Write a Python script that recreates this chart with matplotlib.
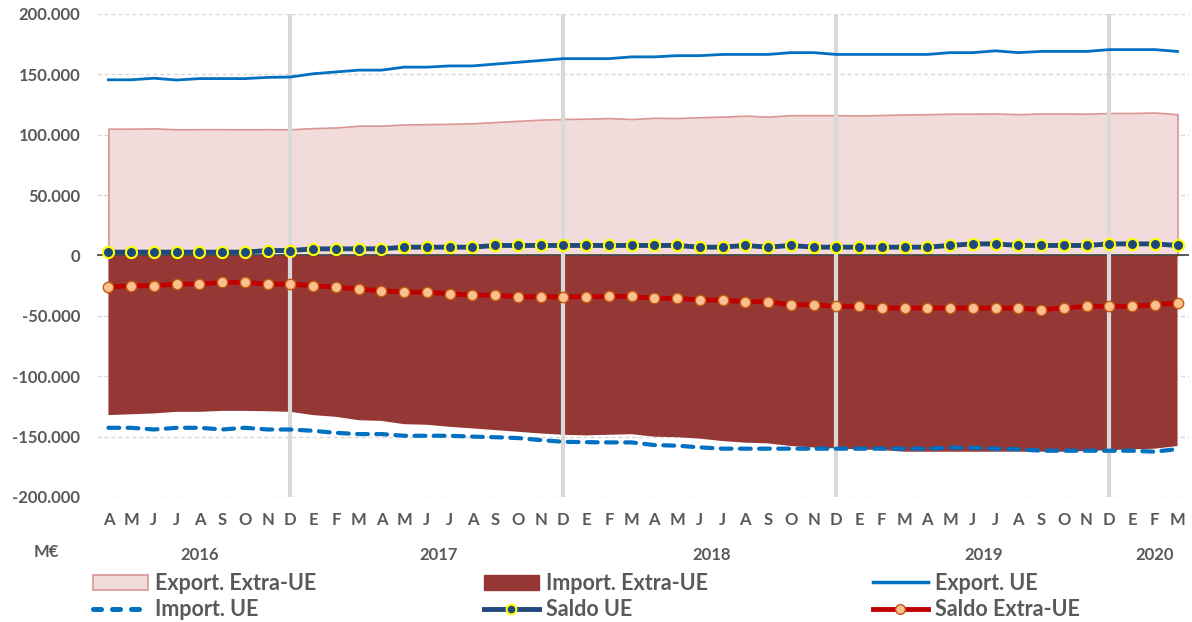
import matplotlib
matplotlib.use('Agg')
import matplotlib.pyplot as plt
from matplotlib.patches import Patch
from matplotlib.lines import Line2D
import numpy as np

#Font and colours
plt.rcParams['font.family'] = ['Lato', 'DejaVu Sans']
TXT = '#595959'

#Months abr (spanish), April 2016 -> March 2020
months = ['A', 'M', 'J', 'J', 'A', 'S', 'O', 'N', 'D',
          'E', 'F', 'M', 'A', 'M', 'J', 'J', 'A', 'S', 'O', 'N', 'D',
          'E', 'F', 'M', 'A', 'M', 'J', 'J', 'A', 'S', 'O', 'N', 'D',
          'E', 'F', 'M', 'A', 'M', 'J', 'J', 'A', 'S', 'O', 'N', 'D',
          'E', 'F', 'M']
years = ['2016', '2017', '2018', '2019', '2020']
yearCenter = [4, 14.5, 26.5, 38.5, 46]   #Middle index of each year's months
decIdx = [8, 20, 32, 44]                 #December positions (gray lines)

#Values in thousands of M€
exportExtra = [105.0, 105.0, 105.3, 104.5, 104.6, 104.6, 104.5, 104.6, 104.5,
               105.5, 106.0, 107.5, 107.5, 108.5, 108.8, 109.0, 109.5, 110.5, 111.5, 112.5, 113.0,
               113.3, 113.8, 113.0, 114.0, 113.8, 114.5, 115.0, 115.8, 115.0, 116.2, 116.2, 116.2,
               116.0, 116.3, 116.8, 117.0, 117.4, 117.4, 117.6, 117.0, 117.6, 117.6, 117.4, 118.0,
               118.0, 118.4, 117.0]
importExtra = [-132.2, -131.5, -130.8, -129.5, -129.5, -128.7, -128.7, -129.0, -129.5,
               -132.2, -133.6, -136.4, -137.0, -139.7, -140.2, -141.9, -143.2, -144.6, -146.0, -147.4, -148.5,
               -149.0, -148.5, -148.0, -150.1, -150.5, -151.7, -153.7, -155.0, -155.6, -157.8, -159.0, -159.8,
               -160.6, -161.2, -162.5, -162.5, -162.5, -162.5, -162.5, -162.5, -162.5, -162.5, -162.0, -161.2,
               -160.6, -160.0, -157.8]
exportUE = [145.5, 145.5, 146.8, 145.3, 146.5, 146.5, 146.5, 147.5, 147.8,
            150.5, 152.0, 153.5, 153.5, 156.0, 156.0, 157.0, 157.0, 158.5, 160.0, 161.5, 163.0,
            163.0, 163.0, 164.5, 164.5, 165.5, 165.5, 166.5, 166.5, 166.5, 168.0, 168.0, 166.5,
            166.5, 166.5, 166.5, 166.5, 168.0, 168.0, 169.5, 168.0, 169.0, 169.0, 169.0, 170.5,
            170.5, 170.5, 169.0]
importUE = [-142.7, -142.7, -144.1, -142.7, -142.7, -144.1, -142.7, -144.1, -144.1,
            -145.2, -146.9, -147.9, -147.9, -149.3, -149.3, -149.3, -150.0, -150.5, -151.2, -152.9, -154.3,
            -154.6, -154.8, -154.8, -157.0, -157.5, -158.9, -160.0, -160.0, -160.0, -160.0, -160.0, -160.0,
            -160.0, -160.0, -160.0, -160.0, -159.2, -159.2, -160.0, -160.5, -161.7, -161.7, -161.7, -161.7,
            -161.7, -162.5, -160.3]
saldoUE = [2.8, 2.8, 2.8, 2.8, 2.8, 2.8, 2.8, 4.1, 4.1,
           5.5, 5.5, 5.5, 5.5, 6.9, 6.9, 6.9, 6.9, 8.3, 8.3, 8.3, 8.3,
           8.3, 8.3, 8.3, 8.3, 8.3, 6.9, 6.9, 8.3, 6.9, 8.3, 6.9, 6.9,
           6.9, 6.9, 6.9, 6.9, 8.3, 9.6, 9.6, 8.3, 8.3, 8.3, 8.3, 9.6,
           9.6, 9.6, 8.3]
saldoExtra = [-26.2, -25.0, -25.0, -23.7, -23.7, -22.3, -22.3, -23.7, -23.7,
              -25.0, -26.2, -27.8, -29.2, -30.4, -30.4, -31.7, -32.8, -32.8, -34.2, -34.2, -34.2,
              -34.2, -33.9, -33.9, -35.5, -35.5, -36.9, -36.9, -38.3, -38.3, -40.8, -40.8, -42.1,
              -42.1, -43.5, -43.5, -43.5, -43.5, -43.5, -43.5, -43.5, -44.9, -43.5, -42.1, -42.1,
              -42.1, -40.8, -39.4]

x = np.arange(len(months))
k = 1000  #to M€

fig = plt.figure(figsize=(11.92, 6.22), dpi=100)
ax = fig.add_axes([0.0814, 0.201, 0.916, 0.7765])
ax.set_xlim(-0.5, len(months) - 0.5)
ax.set_ylim(-200000, 200000)

#Dashed grid
for yv in range(-200000, 200001, 50000):
    ax.axhline(yv, color='#D9D9D9', lw=1, ls=(0, (3, 2)), zorder=0)

#Areas
ax.fill_between(x, 0, np.array(exportExtra) * k, facecolor='#F2DCDB', edgecolor='#D99694', lw=1.2, zorder=1)
ax.fill_between(x, 0, np.array(importExtra) * k, facecolor='#953735', edgecolor='none', zorder=1)
ax.axhline(0, color='#404040', lw=1.2, zorder=2)

#December lines
for d in decIdx:
    ax.plot([d, d], [-200000, 200000], color='#D9D9D9', lw=3, zorder=2, solid_capstyle='butt')

#Lines
ax.plot(x, np.array(exportUE) * k, color='#0070C0', lw=2, zorder=3)
ax.plot(x, np.array(importUE) * k, color='#0070C0', lw=3, ls=(0, (2.6, 2.0)), dash_capstyle='round', zorder=3)
ax.plot(x, np.array(saldoUE) * k, color='#1F497D', lw=3.5, marker='o', ms=8,
        mfc='#1F497D', mec='#FFFF00', mew=1.5, zorder=4)
ax.plot(x, np.array(saldoExtra) * k, color='#C00000', lw=3.5, marker='o', ms=7.5,
        mfc='#FAC090', mec='#C55A11', mew=1, zorder=4)

#Axes formatting
for s in ax.spines.values():
    s.set_visible(False)
yt = np.arange(-200000, 200001, 50000)
ax.set_yticks(yt)
ax.set_yticklabels([f'{int(v):,}'.replace(',', '.') for v in yt], fontsize=12, fontweight='bold', color=TXT)
ax.set_xticks(x)
ax.set_xticklabels(months, fontsize=12, fontweight='bold', color=TXT)
ax.tick_params(axis='y', length=0, pad=12)
ax.tick_params(axis='x', length=0, pad=11)

#Year labels and unit
for yr, c in zip(years, yearCenter):
    ax.text(c, -0.12, yr, transform=ax.get_xaxis_transform(), ha='center', va='center',
            fontsize=12, fontweight='bold', color=TXT)
fig.text(46 / 1192, 1 - 552 / 622, 'M€', ha='center', va='center', fontsize=12, fontweight='bold', color=TXT)

#Legend, 3 columns placed by hand
hExportExtra = Patch(facecolor='#F2DCDB', edgecolor='#D99694', lw=1.2)
hImportExtra = Patch(facecolor='#953735', edgecolor='#953735')
hExportUE = Line2D([], [], color='#0070C0', lw=2.5)
hImportUE = Line2D([], [], color='#0070C0', lw=3.6, ls=(0, (1.6, 2.2)), dash_capstyle='round')
hSaldoUE = Line2D([], [], color='#1F497D', lw=3.5, marker='o', ms=7, mfc='#1F497D', mec='#FFFF00', mew=1.5)
hSaldoExtra = Line2D([], [], color='#C00000', lw=3.5, marker='o', ms=7, mfc='#FAC090', mec='#C55A11', mew=1)

cols = [([hExportExtra, hImportUE], ['Export. Extra-UE', 'Import. UE'], 93),
        ([hImportExtra, hSaldoUE], ['Import. Extra-UE', 'Saldo UE'], 484),
        ([hExportUE, hSaldoExtra], ['Export. UE', 'Saldo Extra-UE'], 873)]
for hs, ls_, px in cols:
    lg = fig.legend(hs, ls_, loc='upper left', bbox_to_anchor=(px / 1192, 1 - 573 / 622),
                    frameon=False, handlelength=2.55, handleheight=0.7, handletextpad=0.35,
                    labelspacing=0.25, borderpad=0, borderaxespad=0,
                    prop={'size': 15.5, 'weight': 'bold'})
    for t in lg.get_texts():
        t.set_color(TXT)

plt.savefig('out.png', dpi=100)
